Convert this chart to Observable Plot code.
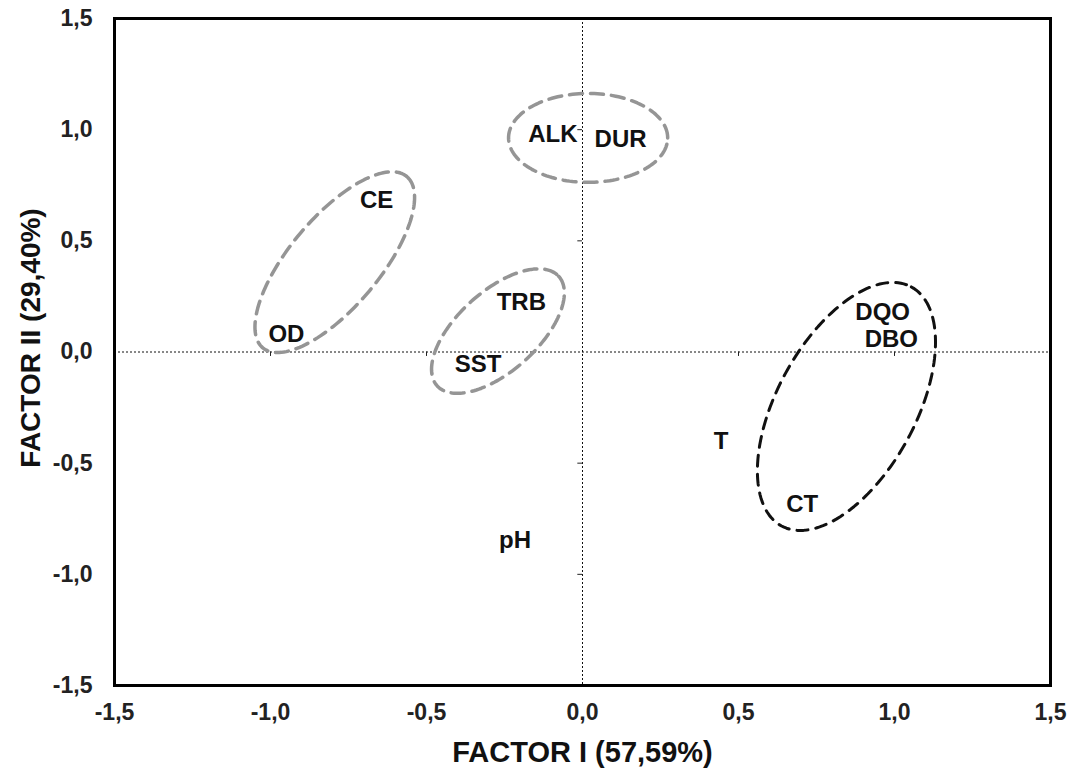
<!DOCTYPE html>
<html><head><meta charset="utf-8">
<script src="https://cdn.jsdelivr.net/npm/d3@7"></script>
<script src="https://cdn.jsdelivr.net/npm/@observablehq/plot@0.6"></script>
<style>body{margin:0;background:#fff}</style>
</head><body><div id="chart"></div>
<script>
// Variable labels and their loadings
const labels  = ["ALK", "DUR", "CE", "OD", "TRB", "SST", "DQO", "DBO", "T", "CT", "pH"];
const factor1 = [-0.095, 0.122, -0.660, -0.949, -0.196, -0.335, 0.962, 0.990, 0.444, 0.704, -0.216];
const factor2 = [0.978, 0.956, 0.682, 0.081, 0.225, -0.054, 0.178, 0.056, -0.403, -0.686, -0.849];

// Grouping ellipses: centre and two conjugate half-axis vectors (data units)
const ellipseId = ["g1", "g2", "g3", "g4"];
const ellipseCx = [0.018, -0.794, -0.271, 0.846];
const ellipseCy = [0.963, 0.404, 0.094, -0.245];
const ellipseUx = [0.255, 0.2307, 0.1947, 0.2080];
const ellipseUy = [0.000, 0.3853, 0.2465, 0.5376];
const ellipseVx = [0.000, 0.1106, 0.0860, 0.1955];
const ellipseVy = [0.200, -0.1298, -0.1329, -0.1489];
const ellipseKind = ["gray", "gray", "gray", "black"];

const axisTicks = [-1.5, -1.0, -0.5, 0.0, 0.5, 1.0, 1.5];
const centerTicks = [-1.0, -0.5, 0.5, 1.0];
const xTitle = "FACTOR I (57,59%)";
const yTitle = "FACTOR II (29,40%)";

const points = labels.map((l, i) => ({label: l, x: factor1[i], y: factor2[i]}));

const ellipsePts = [];
ellipseId.forEach((id, i) => {
  const n = 160;
  for (let k = 0; k <= n; k++) {
    const t = 2 * Math.PI * k / n;
    ellipsePts.push({
      id, kind: ellipseKind[i],
      x: ellipseCx[i] + ellipseUx[i] * Math.cos(t) + ellipseVx[i] * Math.sin(t),
      y: ellipseCy[i] + ellipseUy[i] * Math.cos(t) + ellipseVy[i] * Math.sin(t)
    });
  }
});

const fmt = d => d.toFixed(1).replace(".", ",");
const font = "'Liberation Sans', Arial, sans-serif";

const chart = Plot.plot({
  width: 1076, height: 773,
  marginLeft: 114, marginRight: 26, marginTop: 18, marginBottom: 88,
  style: {fontFamily: font, background: "#fff", overflow: "visible"},
  x: {domain: [-1.5, 1.5]},
  y: {domain: [-1.5, 1.5]},
  marks: [
    Plot.ruleX([0], {stroke: "#111", strokeWidth: 1, strokeDasharray: "2,2"}),
    Plot.ruleY([0], {stroke: "#111", strokeWidth: 1, strokeDasharray: "2,2"}),
    Plot.ruleX(centerTicks, {x: d => d, y1: 0, y2: -0.02, stroke: "#222", strokeWidth: 1}),
    Plot.ruleY(centerTicks, {y: d => d, x1: 0, x2: -0.015, stroke: "#222", strokeWidth: 1}),
    Plot.line(ellipsePts.filter(d => d.kind === "gray"), {x: "x", y: "y", z: "id", stroke: "#959595", strokeWidth: 3.5, strokeDasharray: "13,8"}),
    Plot.line(ellipsePts.filter(d => d.kind === "black"), {x: "x", y: "y", z: "id", stroke: "#111", strokeWidth: 3, strokeDasharray: "11,8"}),
    Plot.text(points, {x: "x", y: "y", text: "label", fontSize: 24, fontWeight: "bold", fill: "#111"}),
    Plot.axisX(axisTicks, {tickSize: 0, tickPadding: 18, tickFormat: fmt, fontSize: 23, fontWeight: "bold", fill: "#222", label: null}),
    Plot.axisY(axisTicks, {tickSize: 0, tickPadding: 22, tickFormat: fmt, fontSize: 23, fontWeight: "bold", fill: "#222", label: null}),
    Plot.text([xTitle], {text: d => d, frameAnchor: "bottom", textAnchor: "middle", lineAnchor: "middle", dy: 67, fontSize: 29, fontWeight: "bold", fill: "#111"}),
    Plot.text([yTitle], {text: d => d, frameAnchor: "left", textAnchor: "middle", lineAnchor: "middle", rotate: -90, dx: -83, dy: -14, fontSize: 28, fontWeight: "bold", fill: "#111"}),
    Plot.frame({stroke: "#000", strokeWidth: 3})
  ]
});
document.getElementById("chart").appendChild(chart);
</script>
</body></html>
